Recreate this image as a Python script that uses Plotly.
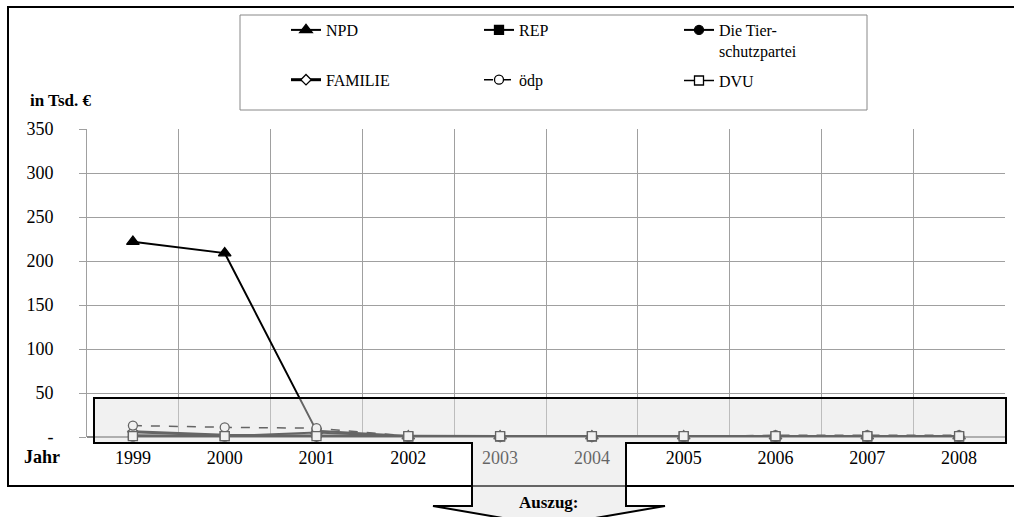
import plotly.graph_objects as go

# ---------------- data ----------------
years = ["1999", "2000", "2001", "2002", "2003", "2004", "2005", "2006", "2007", "2008"]
npd = [222, 209, 7, 1, 1, 1, 1, 1, 1, 1]
rep = [2, 1, 5, 0.5, 0.5, 0.5, 0.5, 0.5, 0.5, 0.5]
tierschutz = [0.5, 0.5, 0.5, 0.5, 0.5, 0.5, 0.5, 0.5, 0.5, 0.5]
familie = [6, 2, 1, 0.5, 0.5, 0.5, 0.5, 0.5, 0.5, 0.5]
oedp = [13, 11, 10, 1, 0.5, 0.5, 0.5, 2, 2, 2]
dvu = [1, 1, 1, 1, 1, 1, 1, 1, 1, 1]

y_tickvals = [0, 50, 100, 150, 200, 250, 300, 350]
y_ticktext = ["-", "50", "100", "150", "200", "250", "300", "350"]

W, H = 1014, 517
FONT = "Liberation Serif"


def px(x):
    return x / W


def py(y):
    return 1 - y / H


fig = go.Figure()

series = [
    dict(name="NPD", y=npd, sym="triangle-up", size=11, mcol="black", width=2, dash="solid", leg="legend"),
    dict(name="REP", y=rep, sym="square", size=9, mcol="black", width=2, dash="solid", leg="legend2"),
    dict(name="Die Tier-<br>schutzpartei", y=tierschutz, sym="circle", size=9, mcol="black", width=2, dash="solid", leg="legend3"),
    dict(name="FAMILIE", y=familie, sym="diamond", size=8, mcol="white", width=3, dash="solid", leg="legend"),
    dict(name="ödp", y=oedp, sym="circle", size=9, mcol="white", width=1.5, dash="dash", leg="legend2"),
    dict(name="DVU", y=dvu, sym="square", size=9, mcol="white", width=1.5, dash="solid", leg="legend3"),
]

for i, s in enumerate(series):
    fig.add_trace(go.Scatter(
        x=years, y=s["y"], name=s["name"], mode="lines+markers",
        line=dict(color="black", width=s["width"], dash=s["dash"]),
        marker=dict(symbol=s["sym"], size=s["size"], color=s["mcol"],
                    line=dict(color="black", width=1.3)),
        cliponaxis=False, legend=s["leg"], legendgroup=f"g{i}",
    ))

# overlay (excerpt box + arrow), semi-transparent, drawn above traces
overlay_pts = [(94, 398), (1006, 398), (1006, 443), (626, 443), (626, 506), (665, 506),
               (549, 526), (433, 506), (472, 506), (472, 443), (94, 443)]
path = "M " + " L ".join(f"{px(x):.5f},{py(y):.5f}" for x, y in overlay_pts) + " Z"

shapes = [
    # outer frame
    dict(type="rect", xref="paper", yref="paper", x0=px(8), x1=px(1020), y0=py(486), y1=py(7),
         line=dict(color="black", width=2), fillcolor="rgba(0,0,0,0)", layer="below"),
    # legend frame
    dict(type="rect", xref="paper", yref="paper", x0=px(240), x1=px(867), y0=py(110), y1=py(15),
         line=dict(color="#888", width=1), fillcolor="rgba(0,0,0,0)", layer="above"),
    dict(type="path", xref="paper", yref="paper", path=path,
         fillcolor="rgba(225,225,225,0.45)", line=dict(color="black", width=2), layer="above"),
]

annotations = [
    dict(text="<b>in Tsd. €</b>", xref="paper", yref="paper", x=px(28), y=py(100),
         xanchor="left", yanchor="middle", showarrow=False, font=dict(family=FONT, size=17, color="black")),
    dict(text="<b>Jahr</b>", xref="paper", yref="paper", x=px(22), y=py(457),
         xanchor="left", yanchor="middle", showarrow=False, font=dict(family=FONT, size=18, color="black")),
    dict(text="<b>Auszug:</b>", xref="paper", yref="paper", x=px(549), y=py(502),
         xanchor="center", yanchor="middle", showarrow=False, font=dict(family=FONT, size=17, color="black")),
]

leg_common = dict(orientation="v", yanchor="top", xanchor="left", bgcolor="rgba(0,0,0,0)",
                  borderwidth=0, font=dict(family=FONT, size=16, color="black"),
                  traceorder="grouped", valign="top")

fig.update_layout(
    width=W, height=H, autosize=False,
    margin=dict(l=0, r=0, t=0, b=0, pad=0, autoexpand=False),
    paper_bgcolor="white", plot_bgcolor="white",
    font=dict(family=FONT, size=18, color="black"),
    shapes=shapes, annotations=annotations,
    showlegend=True,
    legend=dict(x=px(286), y=py(13), tracegroupgap=26, **leg_common),
    legend2=dict(x=px(479), y=py(13), tracegroupgap=26, **leg_common),
    legend3=dict(x=px(679), y=py(13), tracegroupgap=6, **leg_common),
    xaxis=dict(
        domain=[px(87), px(1005)], type="category", range=[-0.5, 9.5],
        tickson="boundaries", showgrid=True, gridcolor="#a0a0a0", gridwidth=1,
        ticks="", showline=False, zeroline=False, automargin=False,
        tickfont=dict(family=FONT, size=18, color="black"),
        ticklabelstandoff=8,
    ),
    yaxis=dict(
        domain=[py(437), py(129)], range=[0, 350],
        tickvals=y_tickvals, ticktext=y_ticktext, automargin=False,
        showgrid=True, gridcolor="#a0a0a0", gridwidth=1,
        ticks="outside", ticklen=7, tickcolor="#a0a0a0",
        showline=True, linecolor="#a0a0a0", linewidth=1,
        zeroline=True, zerolinecolor="#888", zerolinewidth=1.5,
        tickfont=dict(family=FONT, size=18, color="black"),
        ticklabelstandoff=22,
    ),
)

fig.write_html("out.html", config={"displayModeBar": False},
               post_script="document.body.style.margin='0';document.body.style.overflow='hidden';")
